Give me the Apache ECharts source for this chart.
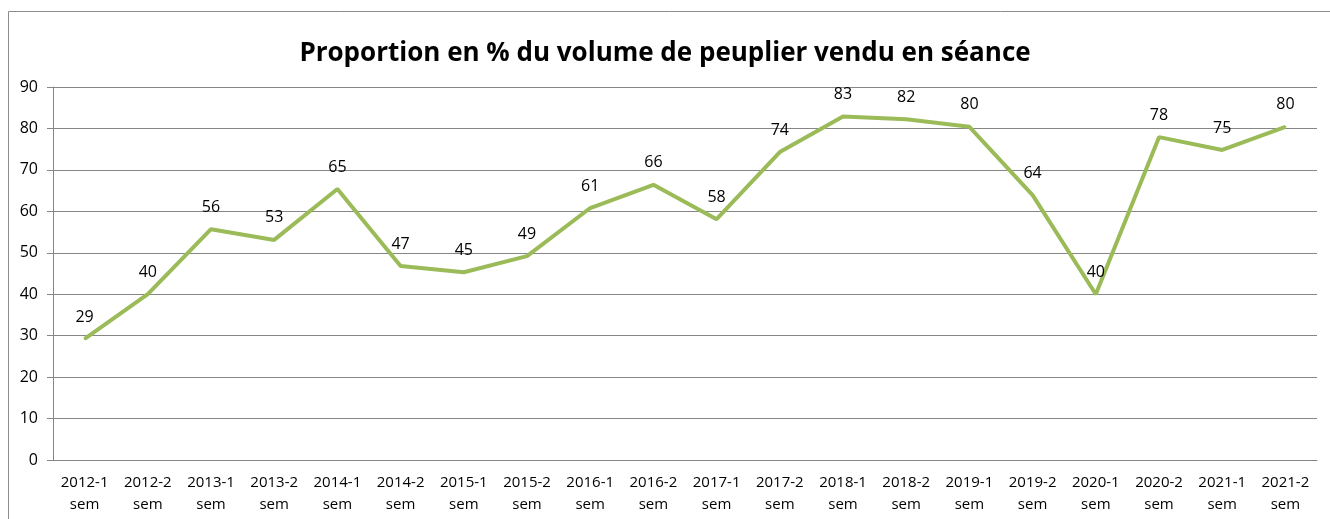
<!DOCTYPE html>
<html>
<head>
<meta charset="utf-8">
<script src="https://cdn.jsdelivr.net/npm/echarts@6/dist/echarts.min.js"></script>
<style>
  html, body { margin: 0; padding: 0; background: #fff; }
  #chart { width: 1330px; height: 519px; }
</style>
</head>
<body>
<div id="chart"></div>
<script>
// categories (semesters)
var categories = [
  '2012-1\nsem', '2012-2\nsem', '2013-1\nsem', '2013-2\nsem', '2014-1\nsem',
  '2014-2\nsem', '2015-1\nsem', '2015-2\nsem', '2016-1\nsem', '2016-2\nsem',
  '2017-1\nsem', '2017-2\nsem', '2018-1\nsem', '2018-2\nsem', '2019-1\nsem',
  '2019-2\nsem', '2020-1\nsem', '2020-2\nsem', '2021-1\nsem', '2021-2\nsem'
]
// proportion en % vendu en séance
var proportion = [
  29.2, 40.0, 55.7, 53.1, 65.4,
  46.8, 45.3, 49.2, 60.8, 66.4,
  58.1, 74.3, 82.9, 82.2, 80.4,
  63.9, 40.0, 77.9, 74.8, 80.4
]
var yTicks = { min: 0, max: 90, interval: 10 }

var font = "'Open Sans', 'Liberation Sans', sans-serif"
var chart = echarts.init(document.getElementById('chart'))
chart.setOption({
  animation: false,
  title: {
    text: 'Proportion en % du volume de peuplier vendu en séance',
    left: 'center',
    top: 36,
    textStyle: { fontFamily: font, fontSize: 26, fontWeight: 'bold', color: '#000' }
  },
  graphic: [{
    type: 'rect',
    shape: { x: 8.5, y: 11.5, width: 1340, height: 540 },
    style: { fill: 'none', stroke: '#8c8c8c', lineWidth: 1 },
    silent: true
  }],
  grid: { left: 53, right: 13, top: 87, bottom: 59 },
  xAxis: {
    type: 'category',
    data: categories,
    boundaryGap: true,
    axisLine: { lineStyle: { color: '#868686', width: 1 } },
    axisTick: { alignWithLabel: false, length: 6, lineStyle: { color: '#868686' } },
    axisLabel: { color: '#000', fontFamily: font, fontSize: 15, lineHeight: 22, margin: 12, interval: 0 }
  },
  yAxis: {
    type: 'value',
    min: yTicks.min,
    max: yTicks.max,
    interval: yTicks.interval,
    axisLine: { show: true, lineStyle: { color: '#868686', width: 1 } },
    axisTick: { show: true, length: 6, lineStyle: { color: '#868686' } },
    axisLabel: { color: '#000', fontFamily: font, fontSize: 16, margin: 15 },
    splitLine: { lineStyle: { color: '#868686', width: 1 } }
  },
  series: [{
    type: 'line',
    data: proportion,
    symbol: 'circle',
    symbolSize: 2,
    itemStyle: { color: '#9bbb59' },
    lineStyle: { color: '#9bbb59', width: 4 },
    label: {
      show: true,
      position: 'top',
      distance: 13,
      color: '#000',
      fontFamily: font,
      fontSize: 16,
      formatter: function (p) { return Math.round(p.value) }
    }
  }]
})
</script>
</body>
</html>
